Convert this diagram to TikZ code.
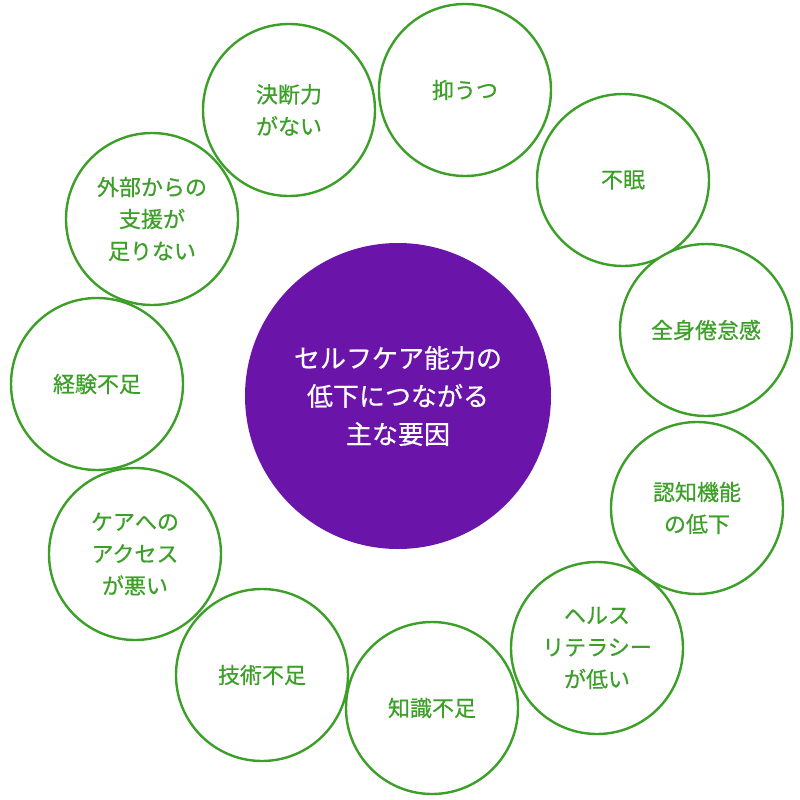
\documentclass[tikz,border=0pt]{standalone}
\usepackage{fontspec}
\setmainfont{Noto Sans CJK JP}
\newfontfamily\midfont[FakeBold=0.6]{Noto Sans CJK JP}
\definecolor{causegreen}{RGB}{60,160,40}
\definecolor{corepurple}{RGB}{106,20,170}
\tikzset{
  cause/.style={circle, draw=causegreen, line width=2.4pt, fill=white, minimum size=172pt,
    inner sep=0pt, align=center, font=\midfont\fontsize{22}{32}\selectfont, text=causegreen},
  core/.style={circle, fill=corepurple, minimum size=306pt, inner sep=0pt, align=center,
    font=\midfont\fontsize{26}{38}\selectfont, text=white}
}
\begin{document}
\begin{tikzpicture}[x=1pt,y=-1pt]
  \useasboundingbox (0,0) rectangle (800,800);

  % center
  \node[core] (core) at (398,396) {セルフケア能力の\\低下につながる\\主な要因};

  % causes around it
  \node[cause] (decision) at (289,110) {決断力\\がない};
  \node[cause] (depress) at (465,90) {抑うつ};
  \node[cause] (insomnia) at (623,180) {不眠};
  \node[cause] (fatigue) at (706,330) {全身倦怠感};
  \node[cause] (cognition) at (697,508) {認知機能\\の低下};
  \node[cause] (literacy) at (597,648) {ヘルス\\リテラシー\\が低い};
  \node[cause] (knowledge) at (432,708) {知識不足};
  \node[cause] (skill) at (262,675) {技術不足};
  \node[cause] (access) at (135,554) {ケアへの\\アクセス\\が悪い};
  \node[cause] (experience) at (97,384) {経験不足};
  \node[cause] (support) at (152,219) {外部からの\\支援が\\足りない};

\end{tikzpicture}
\end{document}
